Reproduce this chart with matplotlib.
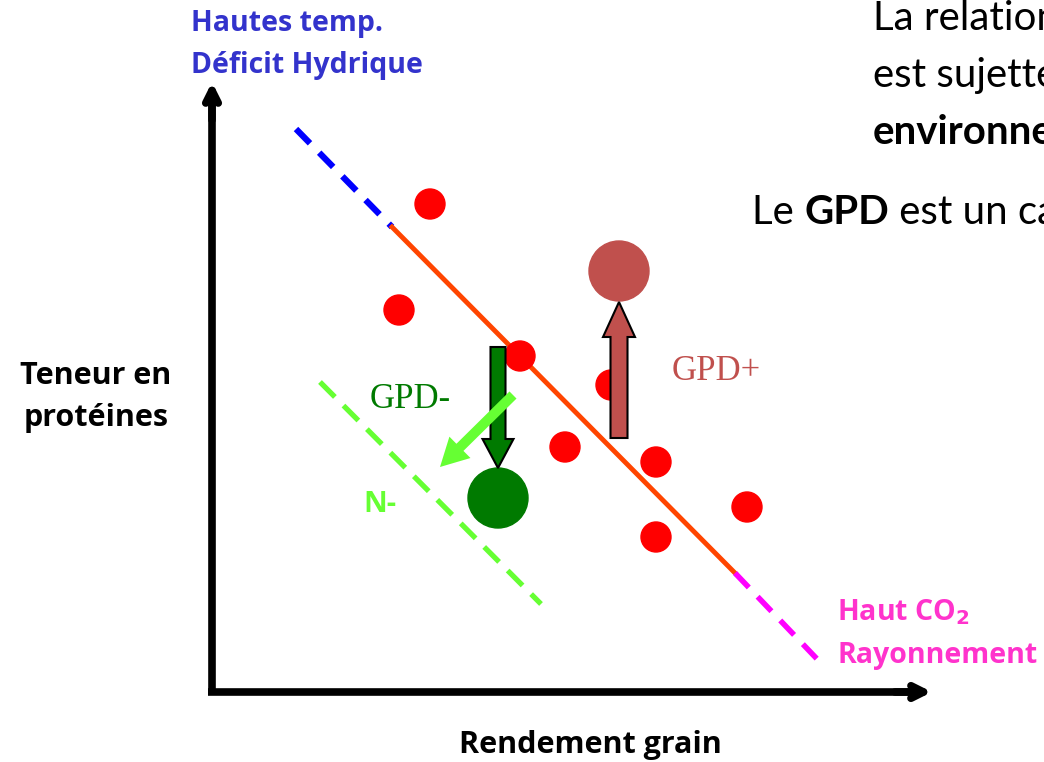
import matplotlib.pyplot as plt
import matplotlib.patches as mpatches

# everything laid out in pixel space of the 1044x762 slide (y grows downwards)
dots_x = [430, 399, 520, 611, 565, 656, 747, 656]
dots_y = [204, 310, 356, 385, 447, 462, 507, 537]

gpd_plus = (619, 271)
gpd_minus = (498, 498)

trend_x = [296, 392, 735, 818]
trend_y = [129, 227, 573, 660]

n_minus_x = [320, 541]
n_minus_y = [382, 604]

fig = plt.figure(figsize=(10.44, 7.62), dpi=100)
ax = fig.add_axes([0, 0, 1, 1])
ax.set_xlim(0, 1044)
ax.set_ylim(762, 0)
ax.axis('off')

# axes with arrow heads
ax.plot([212, 212], [695, 100], color='black', lw=5.5, solid_capstyle='butt')
ax.plot([208, 915], [692, 692], color='black', lw=5.5, solid_capstyle='butt')
ax.annotate('', xy=(212, 82), xytext=(212, 120),
            arrowprops=dict(arrowstyle='->,head_length=0.9,head_width=0.45', lw=5.5, color='black',
                            capstyle='round', joinstyle='round', shrinkA=0, shrinkB=0))
ax.annotate('', xy=(932, 692), xytext=(895, 692),
            arrowprops=dict(arrowstyle='->,head_length=0.9,head_width=0.45', lw=5.5, color='black',
                            capstyle='round', joinstyle='round', shrinkA=0, shrinkB=0))

# trend line: blue dashed / red solid / magenta dashed
ax.plot(trend_x[0:2], trend_y[0:2], color='#0000FF', lw=4.5, ls=(0, (3.2, 2.1)))
ax.plot(trend_x[1:3], trend_y[1:3], color='#FF4500', lw=3.5)
ax.plot(trend_x[2:4], trend_y[2:4], color='#FF00FF', lw=4, ls=(0, (3.6, 2.3)))

# N- line
ax.plot(n_minus_x, n_minus_y, color='#66FF33', lw=3.8, ls=(0, (4, 2.3)))

for x, y in zip(dots_x, dots_y):
    ax.add_patch(mpatches.Circle((x, y), 15, color='#FF0000', zorder=3))

ax.add_patch(mpatches.Circle(gpd_plus, 30, color='#C0504D', zorder=3))
ax.add_patch(mpatches.Circle(gpd_minus, 30, color='#007A00', zorder=3))

# arrows
ax.add_patch(mpatches.FancyArrow(619, 438, 0, -136, width=17, head_width=32, head_length=35,
                                 length_includes_head=True, fc='#C0504D', ec='black', lw=1.5, zorder=4))
ax.add_patch(mpatches.FancyArrow(498, 347, 0, 121, width=15, head_width=31, head_length=29,
                                 length_includes_head=True, fc='#007A00', ec='black', lw=1.5, zorder=4))
ax.add_patch(mpatches.FancyArrow(513, 395, -73, 72, width=10, head_width=30, head_length=28,
                                 length_includes_head=True, fc='#66FF33', ec='none', zorder=4))

# labels
ax.text(410, 400, 'GPD-', family='Liberation Serif', fontsize=25, color='#007A00', ha='center', va='center')
ax.text(716, 371, 'GPD+', family='Liberation Serif', fontsize=25, color='#C0504D', ha='center', va='center')
ax.text(380, 504, 'N-', family='Open Sans', fontweight='bold', fontsize=21, color='#66FF33', ha='center', va='center')

lab = dict(family='Open Sans', fontweight='bold', fontsize=20.5, va='center')
blue = '#3333CC'
ax.text(191, 24, 'Hautes temp.', color=blue, **lab)
ax.text(191, 66, 'Déficit Hydrique', color=blue, **lab)

pink = '#FF33CC'
ax.text(837, 612, 'Haut CO$_\\mathbf{2}$', color=pink, **lab)
ax.text(837, 655, 'Rayonnement', color=pink, **lab)

big = dict(lab, fontsize=22)
ax.text(96, 376, 'Teneur en', ha='center', **big)
ax.text(96, 418, 'protéines', ha='center', **big)
ax.text(590, 745, 'Rendement grain', ha='center', **big)

# slide text running off the right edge
body = dict(family='Lato', fontsize=29, va='center')
ax.text(873, 18, 'La relation', **body)
ax.text(873, 76, 'est sujette', **body)
ax.text(873, 132, 'environnementaux', fontweight='bold', **body)

# "Le GPD est un ..." with the bold word inline
r = fig.canvas.get_renderer()
x0 = 752
for word, w in [('Le ', 'normal'), ('GPD', 'bold'), (' est un caractère', 'normal')]:
    t = ax.text(x0, 213, word, fontweight=w, **body)
    bb = t.get_window_extent(renderer=r)
    x0 += bb.width

fig.savefig('out.png', dpi=100)
